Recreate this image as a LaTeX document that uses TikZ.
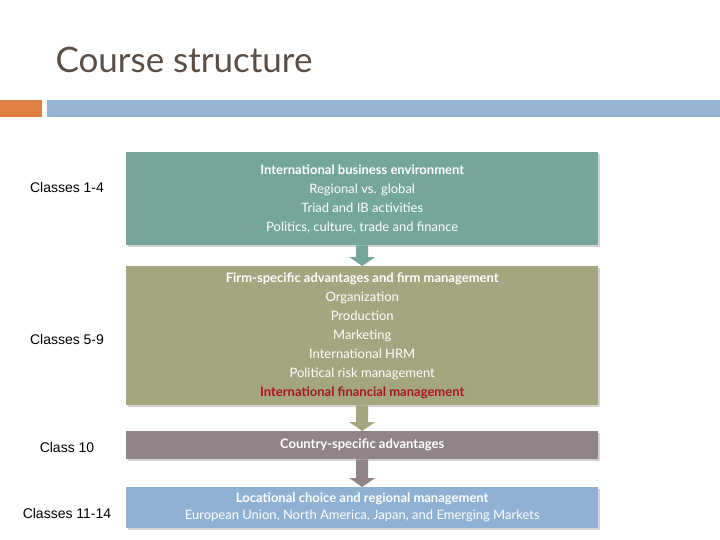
\documentclass[tikz,border=0pt]{standalone}
\usepackage{fontspec}
\setmainfont{Lato}
\newfontfamily\labelfont{Liberation Sans}
\usetikzlibrary{shadows,calc}
\definecolor{teal1}{HTML}{75A69B}
\definecolor{olive1}{HTML}{A3A67E}
\definecolor{mauve1}{HTML}{928486}
\definecolor{sky1}{HTML}{8FB1D3}
\definecolor{barblue}{HTML}{94B4D1}
\definecolor{barorange}{HTML}{E07F43}
\definecolor{titlebrown}{HTML}{5A4E45}
\definecolor{redtext}{HTML}{A8151B}
\begin{document}
\begin{tikzpicture}[x=1pt,y=-1pt,
  box/.style = {anchor=north west, minimum width=472pt, align=center, text=white,
                font=\fontsize{13}{19}\selectfont, inner sep=2pt,
                drop shadow={opacity=0.35, shadow xshift=2pt, shadow yshift=-2pt}},
  classlabel/.style = {font=\labelfont\fontsize{14}{16}\selectfont}]
  \useasboundingbox (0,0) rectangle (720,540);
  % title and bars
  \node [anchor=west, text=titlebrown, font=\fontsize{35}{40}\selectfont] (title) at (52,60) {Course structure};
  \fill [barorange] (0,100) rectangle (42,117);
  \fill [barblue] (47,100) rectangle (720,117);

  % boxes
  \node [box, fill=teal1, minimum height=93pt] (env) at (126,152)
    {\textbf{International business environment}\\Regional vs. global\\Triad and IB activities\\Politics, culture, trade and finance};
  \node [box, fill=olive1, minimum height=139pt] (firm) at (126,266)
    {\textbf{Firm-specific advantages and firm management}\\Organization\\Production\\Marketing\\International HRM\\Political risk management\\\textcolor{redtext}{\textbf{International financial management}}};
  \node [box, fill=mauve1, minimum height=28pt] (csa) at (126,431)
    {\textbf{Country-specific advantages}};
  \node [box, fill=sky1, minimum height=41pt, font=\fontsize{13}{17}\selectfont] (loc) at (126,487)
    {\textbf{Locational choice and regional management}\\European Union, North America, Japan, and Emerging Markets};

  % arrows
  \foreach \a/\b/\c in {env/firm/teal1, firm/csa/olive1, csa/loc/mauve1}{
    \fill [\c] ($(\a.south)+(-6,0)$) -- ($(\a.south)+(6,0)$) -- ($(\b.north)+(6,-9)$)
      -- ($(\b.north)+(13,-9)$) -- (\b.north) -- ($(\b.north)+(-13,-9)$) -- ($(\b.north)+(-6,-9)$) -- cycle;
  }

  % class labels
  \node [classlabel] (c1) at (67,187) {Classes 1-4};
  \node [classlabel] (c2) at (67,339) {Classes 5-9};
  \node [classlabel] (c3) at (67,447) {Class 10};
  \node [classlabel] (c4) at (67,513) {Classes 11-14};
\end{tikzpicture}
\end{document}
